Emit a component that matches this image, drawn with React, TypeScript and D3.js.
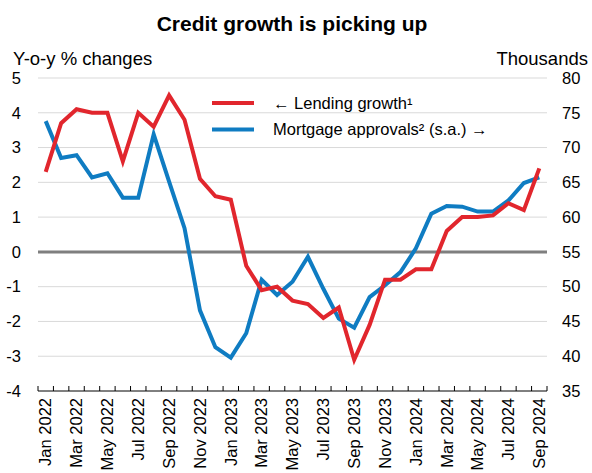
import React from 'react';
import * as d3 from 'd3';

const months = [
  'Jan 2022', 'Feb 2022', 'Mar 2022', 'Apr 2022', 'May 2022', 'Jun 2022', 'Jul 2022', 'Aug 2022',
  'Sep 2022', 'Oct 2022', 'Nov 2022', 'Dec 2022', 'Jan 2023', 'Feb 2023', 'Mar 2023', 'Apr 2023',
  'May 2023', 'Jun 2023', 'Jul 2023', 'Aug 2023', 'Sep 2023', 'Oct 2023', 'Nov 2023', 'Dec 2023',
  'Jan 2024', 'Feb 2024', 'Mar 2024', 'Apr 2024', 'May 2024', 'Jun 2024', 'Jul 2024', 'Aug 2024',
  'Sep 2024',
];

// y-o-y % changes, left axis
const lendingGrowth = [
  2.3, 3.7, 4.1, 4.0, 4.0, 2.6, 4.0, 3.6, 4.5, 3.8, 2.1, 1.6, 1.5, -0.4, -1.1, -1.0,
  -1.4, -1.5, -1.9, -1.6, -3.1, -2.1, -0.8, -0.8, -0.5, -0.5, 0.6, 1.0, 1.0, 1.05, 1.4, 1.2,
  2.4,
];

// thousands, right axis
const mortgageApprovals = [
  73.8, 68.5, 68.9, 65.7, 66.3, 62.8, 62.8, 71.9, 65.1, 58.4, 46.6, 41.3, 39.8, 43.3, 51.0, 48.8,
  50.7, 54.3, 49.7, 45.4, 44.1, 48.5, 50.2, 52.1, 55.5, 60.5, 61.6, 61.5, 60.8, 60.8, 62.4, 64.9,
  65.7,
];

const leftTicks = [-4, -3, -2, -1, 0, 1, 2, 3, 4, 5];
const rightTicks = [35, 40, 45, 50, 55, 60, 65, 70, 75, 80];
const labelEvery = 2;

const RED = '#e1262d';
const BLUE = '#0f7cc2';
const FONT = 'Liberation Sans, Arial, sans-serif';

const W = 592, H = 473;
const margin = { top: 78, right: 45, bottom: 82, left: 38 };

export default function App() {
  const innerW = W - margin.left - margin.right;
  const innerH = H - margin.top - margin.bottom;

  const x = d3.scaleBand<string>().domain(months).range([0, innerW]).padding(0);
  const yL = d3.scaleLinear().domain([-4, 5]).range([innerH, 0]);
  const yR = d3.scaleLinear().domain([35, 80]).range([innerH, 0]);
  const cx = (m: string) => (x(m) ?? 0) + x.bandwidth() / 2;

  const redLine = d3.line<number>().x((_, i) => cx(months[i])).y(d => yL(d));
  const blueLine = d3.line<number>().x((_, i) => cx(months[i])).y(d => yR(d));

  const boundaries = d3.range(months.length + 1).map(i => i * x.bandwidth());

  return (
    <svg width={W} height={H} style={{ position: 'absolute', left: 0, top: 0 }} fontFamily={FONT}>
      <text x={W / 2 - 4} y={31} textAnchor="middle" fontSize={21} fontWeight="bold">
        Credit growth is picking up
      </text>
      <text x={13} y={64.5} fontSize={18.5}>Y-o-y % changes</text>
      <text x={588} y={64.5} fontSize={18.5} textAnchor="end">Thousands</text>

      <g transform={`translate(${margin.left},${margin.top})`}>
        {leftTicks.filter(t => t !== 0 && t !== -4).map(t => (
          <line key={t} x1={0} x2={innerW} y1={yL(t)} y2={yL(t)} stroke="#d9d9d9" strokeWidth={1} />
        ))}
        <line x1={0} x2={innerW} y1={yL(0)} y2={yL(0)} stroke="#7f7f7f" strokeWidth={3} />

        {leftTicks.map(t => (
          <text key={t} x={-17} y={yL(t)} dy="0.35em" textAnchor="end" fontSize={16.5}>{t}</text>
        ))}
        {rightTicks.map(t => (
          <text key={t} x={innerW + 15} y={yR(t)} dy="0.35em" fontSize={16.5}>{t}</text>
        ))}

        <line x1={0} x2={innerW} y1={innerH} y2={innerH} stroke="#000" strokeWidth={1} />
        {boundaries.map((b, i) => (
          <line key={i} x1={b} x2={b} y1={innerH} y2={innerH - 5} stroke="#000" strokeWidth={1} />
        ))}
        {months.filter((_, i) => i % labelEvery === 0).map(m => (
          <text key={m} transform={`translate(${cx(m)},${innerH + 7}) rotate(-90)`}
            dy="0.35em" textAnchor="end" fontSize={16.5}>{m}</text>
        ))}

        <path d={blueLine(mortgageApprovals) ?? ''} fill="none" stroke={BLUE} strokeWidth={4} strokeLinejoin="miter" />
        <path d={redLine(lendingGrowth) ?? ''} fill="none" stroke={RED} strokeWidth={4} strokeLinejoin="miter" />

        <g transform="translate(174,25)">
          <line x1={0} x2={42} y1={0} y2={0} stroke={RED} strokeWidth={4} />
          <text x={61} y={0} dy="0.35em" fontSize={16.5}>← Lending growth¹</text>
          <line x1={0} x2={42} y1={26.5} y2={26.5} stroke={BLUE} strokeWidth={4} />
          <text x={61} y={26.5} dy="0.35em" fontSize={16.5}>Mortgage approvals² (s.a.) →</text>
        </g>
      </g>
    </svg>
  );
}
